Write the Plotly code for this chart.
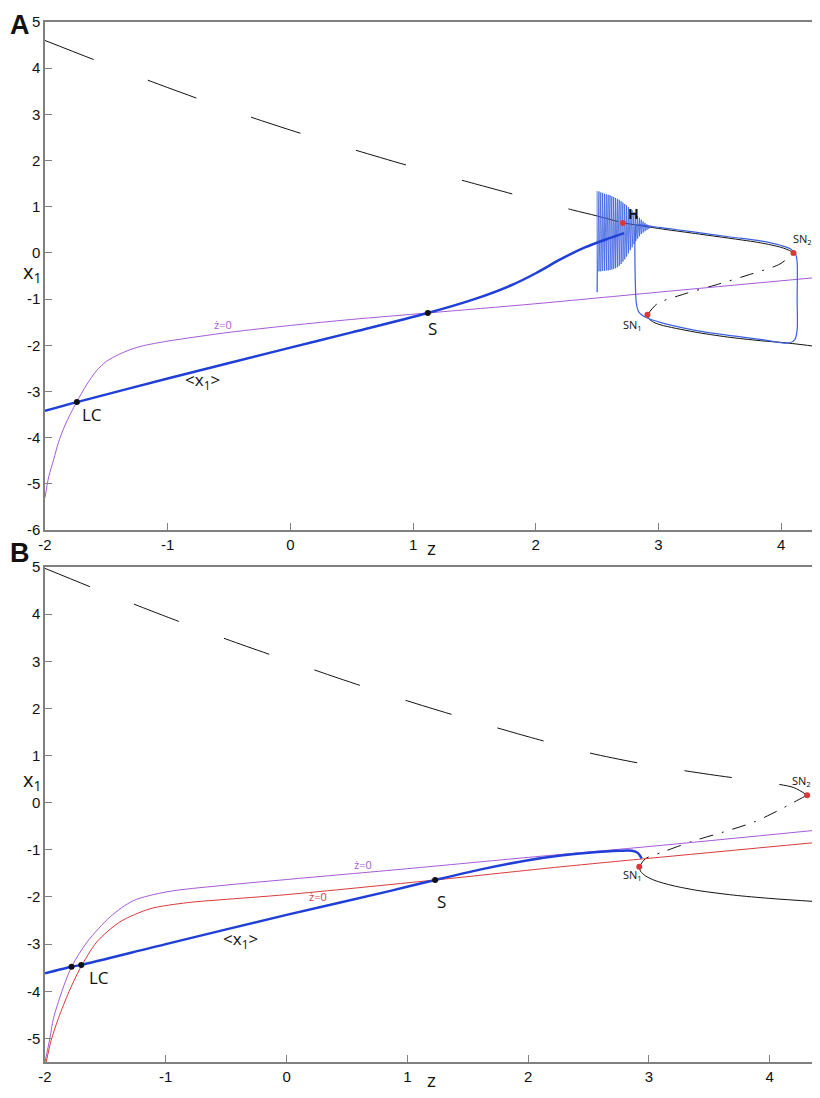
import plotly.graph_objects as go

# ── colours ───────────────────────────────────────────────
BLACK = "#111111"
BLUE = "#1f3fd6"
BLUE_THIN = "#3a5fe0"
PURPLE = "#a65ad8"
RED = "#d83a3a"
AXIS = "#808080"

# ── panel A data (z, x1) ──────────────────────────────────
a_up_dash_z = [-2.0, -1.5, -1.0, -0.5, 0.0, 0.5, 1.0, 1.5, 2.0, 2.3, 2.5, 2.71]
a_up_dash_x = [4.6, 4.08, 3.58, 3.1, 2.66, 2.25, 1.86, 1.5, 1.14, 0.93, 0.8, 0.65]
a_up_solid_z = [2.71, 3.0, 3.3, 3.6, 3.83, 4.0, 4.07, 4.1]
a_up_solid_x = [0.65, 0.53, 0.42, 0.31, 0.22, 0.12, 0.05, 0.0]
a_mid_z = [2.91, 2.99, 3.21, 3.47, 3.74, 3.99, 4.1]
a_mid_x = [-1.34, -1.1, -0.89, -0.69, -0.47, -0.24, 0.0]
a_low_z = [2.91, 2.92, 2.96, 3.02, 3.29, 3.56, 3.83, 4.05, 4.3]
a_low_x = [-1.34, -1.42, -1.5, -1.56, -1.71, -1.82, -1.9, -1.95, -2.03]
a_null_z = [-2.0, -1.97, -1.93, -1.89, -1.84, -1.79, -1.74, -1.66, -1.58, -1.5, -1.4,
            -1.3, -1.2, -1.0, -0.5, 0.0, 0.5, 1.12, 2.0, 3.0, 4.3]
a_null_x = [-5.3, -4.85, -4.48, -4.1, -3.75, -3.47, -3.22, -2.85, -2.55, -2.35, -2.2,
            -2.09, -2.01, -1.91, -1.72, -1.57, -1.44, -1.3, -1.1, -0.85, -0.53]
a_mean_z = [-2.0, -1.74, -1.0, 0.0, 0.5, 1.12, 1.5, 1.8, 2.0, 2.2, 2.4, 2.6, 2.72]
a_mean_x = [-3.42, -3.23, -2.72, -2.05, -1.72, -1.3, -1.0, -0.7, -0.44, -0.14, 0.12, 0.32, 0.43]
# fast oscillations: spike positions and their upper / lower ends
a_osc_z = [2.50, 2.515, 2.53, 2.545, 2.56, 2.575, 2.59, 2.605, 2.62, 2.635, 2.65, 2.665,
           2.68, 2.695, 2.71, 2.725, 2.74, 2.755, 2.77, 2.785, 2.80, 2.815, 2.83, 2.845,
           2.86, 2.875, 2.89, 2.905, 2.92, 2.935]
a_osc_top = [1.34, 1.33, 1.31, 1.30, 1.28, 1.27, 1.26, 1.25, 1.23, 1.21, 1.19, 1.17,
             1.15, 1.12, 1.09, 1.06, 1.03, 0.99, 0.95, 0.92, 0.88, 0.84, 0.80, 0.76,
             0.72, 0.68, 0.65, 0.62, 0.59, 0.57]
a_osc_bot = [-0.85, -0.40, -0.40, -0.39, -0.39, -0.38, -0.38, -0.37, -0.36, -0.35, -0.33, -0.31,
             -0.28, -0.24, -0.19, -0.14, -0.08, -0.01, 0.06, 0.12, 0.19, 0.26, 0.31, 0.36,
             0.41, 0.44, 0.47, 0.50, 0.52, 0.54]
# relaxation cycle after the oscillations
a_cyc_z = [2.82, 2.95, 3.3, 3.6, 3.83, 4.0, 4.08, 4.12, 4.13, 4.13, 4.13, 4.11, 4.06,
           3.83, 3.56, 3.29, 3.02, 2.9, 2.84, 2.82, 2.81, 2.81, 2.82]
a_cyc_x = [0.6, 0.57, 0.45, 0.34, 0.26, 0.16, 0.08, -0.04, -0.2, -1.0, -1.67, -1.88, -1.95,
           -1.87, -1.78, -1.67, -1.51, -1.4, -1.28, -1.1, -0.5, 0.35, 0.6]
a_lc = (-1.74, -3.23)
a_s = (1.12, -1.30)
a_red_z = [2.71, 2.91, 4.1]
a_red_x = [0.65, -1.34, 0.0]

# ── panel B data (z, x1) ──────────────────────────────────
b_up_z = [-2.0, -1.5, -1.0, -0.5, 0.0, 0.5, 1.0, 1.5, 2.0, 2.5, 3.0, 3.5, 4.0, 4.2, 4.31]
b_up_x = [4.97, 4.45, 3.95, 3.47, 3.02, 2.58, 2.16, 1.77, 1.4, 1.06, 0.8, 0.6, 0.42, 0.32, 0.16]
b_mid_z = [2.92, 2.97, 3.11, 3.37, 3.62, 3.87, 4.06, 4.2, 4.31]
b_mid_x = [-1.36, -1.19, -1.05, -0.81, -0.62, -0.41, -0.18, 0.01, 0.16]
b_low_z = [2.92, 2.93, 2.97, 3.05, 3.2, 3.4, 3.7, 4.0, 4.4]
b_low_x = [-1.36, -1.45, -1.55, -1.65, -1.76, -1.86, -1.96, -2.03, -2.1]
b_null1_z = [-2.0, -1.96, -1.93, -1.86, -1.78, -1.65, -1.46, -1.27, -0.99, -0.55, 0.0,
             1.0, 2.0, 3.0, 4.4]
b_null1_x = [-5.5, -5.0, -4.58, -4.0, -3.48, -2.95, -2.42, -2.08, -1.89, -1.76, -1.63,
             -1.4, -1.16, -0.93, -0.58]
b_null2_z = [-1.99, -1.95, -1.89, -1.8, -1.71, -1.57, -1.38, -1.13, -0.82, -0.55, 0.0,
             1.23, 2.27, 3.0, 4.4]
b_null2_x = [-5.5, -5.05, -4.58, -4.0, -3.52, -2.95, -2.53, -2.25, -2.12, -2.06, -1.95,
             -1.64, -1.36, -1.18, -0.84]
b_mean_z = [-2.0, -1.78, -1.7, -1.0, 0.0, 0.86, 1.23, 1.6, 2.0, 2.27, 2.5, 2.76, 2.86, 2.91, 2.94]
b_mean_x = [-3.62, -3.48, -3.44, -3.0, -2.38, -1.87, -1.64, -1.42, -1.22, -1.12, -1.06,
            -1.02, -1.02, -1.07, -1.18]
b_lc_z = [-1.78, -1.70]
b_lc_x = [-3.48, -3.44]
b_s = (1.23, -1.64)
b_red_z = [2.92, 4.31]
b_red_x = [-1.36, 0.16]

x_ticks = [-2, -1, 0, 1, 2, 3, 4]
ya_ticks = [-6, -5, -4, -3, -2, -1, 0, 1, 2, 3, 4, 5]
yb_ticks = [-5, -4, -3, -2, -1, 0, 1, 2, 3, 4, 5]

fig = go.Figure()


def line(z, x, ax, color, width=1, dash=None, shape="linear"):
    fig.add_trace(go.Scatter(x=z, y=x, mode="lines", xaxis="x" + ax, yaxis="y" + ax,
                             line=dict(color=color, width=width, dash=dash, shape=shape,
                                       smoothing=0.8),
                             showlegend=False, hoverinfo="skip"))


def dots(z, x, ax, color, size=6):
    fig.add_trace(go.Scatter(x=z, y=x, mode="markers", xaxis="x" + ax, yaxis="y" + ax,
                             marker=dict(color=color, size=size), showlegend=False))


# ── panel A ──
osc_z, osc_x = [], []
for zz, top, bot in zip(a_osc_z, a_osc_top, a_osc_bot):
    osc_z += [zz, zz]
    osc_x += [top, bot]
line(a_up_dash_z, a_up_dash_x, "", BLACK, 1, "52px,58px", "spline")
line(a_up_solid_z, a_up_solid_x, "", BLACK, 1, None, "spline")
line(a_mid_z, a_mid_x, "", BLACK, 1, "14px,9px,2px,9px", "spline")
line(a_low_z, a_low_x, "", BLACK, 1, None, "spline")
line(a_null_z, a_null_x, "", PURPLE, 1, None, "spline")
line(osc_z, osc_x, "", BLUE_THIN, 0.8)
line(a_cyc_z, a_cyc_x, "", BLUE_THIN, 1.2, None, "spline")
line(a_mean_z, a_mean_x, "", BLUE, 2.5, None, "spline")
dots([a_lc[0], a_s[0]], [a_lc[1], a_s[1]], "", BLACK)
dots(a_red_z, a_red_x, "", RED)

# ── panel B ──
line(b_up_z, b_up_x, "2", BLACK, 1, "48px,48px", "spline")
line(b_mid_z, b_mid_x, "2", BLACK, 1, "14px,9px,2px,9px", "spline")
line(b_low_z, b_low_x, "2", BLACK, 1, None, "spline")
line(b_null1_z, b_null1_x, "2", PURPLE, 1, None, "spline")
line(b_null2_z, b_null2_x, "2", RED, 1, None, "spline")
line(b_mean_z, b_mean_x, "2", BLUE, 2.5, None, "spline")
dots(b_lc_z + [b_s[0]], b_lc_x + [b_s[1]], "2", BLACK)
dots(b_red_z, b_red_x, "2", RED)

tick_font = dict(family="Liberation Sans Narrow, Arial Narrow, Liberation Sans, Arial",
                 size=15, color="#111")
axis_common = dict(showline=True, linecolor=AXIS, linewidth=1.5, ticks="inside",
                   ticklen=7, tickcolor=AXIS, showgrid=False, zeroline=False,
                   automargin=False, tickfont=tick_font, tickmode="array")


def ax_ticks(vals):
    return dict(tickvals=vals, ticktext=[str(v) for v in vals])


# the page body adds an 8px offset, so the figure is 8px smaller than the window
fig.update_layout(
    template="none",
    width=812, height=1090,
    paper_bgcolor="white", plot_bgcolor="white",
    margin=dict(l=37, r=2, t=14, b=36),
    xaxis=dict(domain=[0, 1], range=[-2, 4.3], anchor="y", mirror=True,
               **ax_ticks(x_ticks), **axis_common),
    yaxis=dict(domain=[0.5115, 1], range=[-6, 5], anchor="x",
               **ax_ticks(ya_ticks), **axis_common),
    xaxis2=dict(domain=[0, 1], range=[-2, 4.4], anchor="y2", mirror=True,
                **ax_ticks(x_ticks), **axis_common),
    yaxis2=dict(domain=[0, 0.476], range=[-5.5, 5], anchor="x2",
                **ax_ticks(yb_ticks), **axis_common),
)

LBL = "Open Sans, Lato, sans-serif"
notes = [
    # panel A
    ("x", "y", -1.62, -3.5, "LC", 17, BLACK),
    ("x", "y", 1.16, -1.64, "S", 17, BLACK),
    ("x", "y", -0.72, -2.76, "&lt;x<sub>1</sub>&gt;", 17, BLACK),
    ("x", "y", -0.55, -1.56, "ż=0", 11, PURPLE),
    ("x", "y", 2.8, 0.86, "<b>H</b>", 14, BLACK),
    ("x", "y", 4.17, 0.3, "SN<sub>2</sub>", 11, BLACK),
    ("x", "y", 2.79, -1.57, "SN<sub>1</sub>", 11, BLACK),
    # panel B
    ("x2", "y2", -1.55, -3.7, "LC", 17, BLACK),
    ("x2", "y2", 1.28, -2.1, "S", 17, BLACK),
    ("x2", "y2", -0.38, -2.9, "&lt;x<sub>1</sub>&gt;", 17, BLACK),
    ("x2", "y2", 0.63, -1.32, "ż=0", 11, PURPLE),
    ("x2", "y2", 0.26, -2.0, "ż=0", 11, RED),
    ("x2", "y2", 2.86, -1.53, "SN<sub>1</sub>", 11, BLACK),
    ("x2", "y2", 4.26, 0.47, "SN<sub>2</sub>", 11, BLACK),
]
for xr, yr, xx, yy, txt, sz, col in notes:
    fig.add_annotation(xref=xr, yref=yr, x=xx, y=yy, text=txt, showarrow=False,
                       font=dict(family=LBL, size=sz, color=col))

paper = [
    (-0.032, 0.997, "<b>A</b>", 27, "Liberation Sans, Arial"),
    (-0.032, 0.4894, "<b>B</b>", 27, "Liberation Sans, Arial"),
    (-0.017, 0.7596, "x<sub>1</sub>", 20, LBL),
    (-0.017, 0.271, "x<sub>1</sub>", 20, LBL),
    (0.5006, 0.4942, "z", 19, LBL),
    (0.5006, -0.0173, "z", 19, LBL),
]
for xx, yy, txt, sz, fam in paper:
    fig.add_annotation(xref="paper", yref="paper", x=xx, y=yy, text=txt, showarrow=False,
                       xanchor="center", yanchor="middle",
                       font=dict(family=fam, size=sz, color=BLACK))

fig.write_html("out.html")
